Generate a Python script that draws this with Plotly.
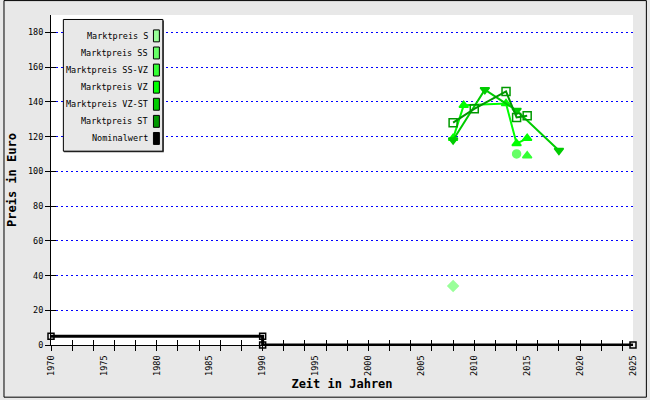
import plotly.graph_objects as go

# ---------------- data ----------------
series_names = ["Marktpreis S", "Marktpreis SS", "Marktpreis SS-VZ", "Marktpreis VZ",
                "Marktpreis VZ-ST", "Marktpreis ST", "Nominalwert"]
series_colors = ["#99FF99", "#66FF66", "#33FF33", "#00FF00", "#00CC00", "#009900", "#000000"]

s_years = [2008]
s_values = [34]

ss_years = [2014]
ss_values = [110]

ssvz_years = [2015]
ssvz_values = [109]

vz_years = [2008, 2009, 2013, 2014, 2015]
vz_values = [119, 138, 139, 116, 119]

vzst_years = [2008, 2011, 2014, 2018]
vzst_values = [118, 147, 135, 112]

st_years = [2008, 2010, 2013, 2014, 2015]
st_values = [128, 136, 146, 131, 132]

nominal_years = [1970, 1990, 1990, 2025]
nominal_values = [5, 5, 0, 0]

y_ticks = [0, 20, 40, 60, 80, 100, 120, 140, 160, 180]
x_labels = list(range(1970, 2026, 5))

# ---------------- figure ----------------
W, H = 650, 400
L, R, T, B = 48, 14, 15, 53
PW, PH = W - L - R, H - T - B


def xp(px):
    return (px - L) / PW


def yp(py):
    return (H - B - py) / PH


MONO = "DejaVu Sans Mono, Liberation Mono, monospace"

fig = go.Figure()

data_series = [
    (s_years, s_values, "diamond"),
    (ss_years, ss_values, "circle"),
    (ssvz_years, ssvz_values, "triangle-up"),
    (vz_years, vz_values, "triangle-up"),
    (vzst_years, vzst_values, "triangle-down"),
    (st_years, st_values, "square-open"),
]

for (xs, ys, sym), name, col in zip(data_series, series_names, series_colors):
    fig.add_trace(go.Scatter(
        x=xs, y=ys, name=name, mode="lines+markers",
        line=dict(color=col, width=2),
        marker=dict(symbol=sym, size=8, color=col,
                    line=dict(color=col, width=1.5)),
        showlegend=False,
    ))

fig.add_trace(go.Scatter(
    x=nominal_years, y=nominal_values, name=series_names[-1], mode="lines+markers",
    line=dict(color="#000000", width=3),
    marker=dict(symbol="square-open", size=6, color="#000000", line=dict(width=1.5)),
    showlegend=False, cliponaxis=False,
))

# ---------------- legend (manual, symbols on the right) ----------------
shapes = []
annotations = []
shapes.append(dict(type="rect", xref="paper", yref="paper",
                   x0=xp(61), x1=xp(162), y0=yp(153), y1=yp(20.5),
                   fillcolor="#333333", line=dict(width=0), layer="above"))
shapes.append(dict(type="rect", xref="paper", yref="paper",
                   x0=xp(60.5), x1=xp(161), y0=yp(152), y1=yp(19.5),
                   fillcolor="#E8E8E8", line=dict(color="#000000", width=1), layer="above"))
row0, dy = 36, 17.2
for i, (name, col) in enumerate(zip(series_names, series_colors)):
    cy = row0 + i * dy
    annotations.append(dict(xref="paper", yref="paper", x=xp(148), y=yp(cy),
                            xanchor="right", yanchor="middle", showarrow=False,
                            text=name, font=dict(family=MONO, size=8.5, color="#000000")))
    shapes.append(dict(type="rect", xref="paper", yref="paper",
                       x0=xp(151.5), x1=xp(157.5), y0=yp(cy + 6), y1=yp(cy - 6),
                       fillcolor=col, line=dict(color="#000000", width=1), layer="above"))

# outer image border
shapes.append(dict(type="rect", xref="paper", yref="paper",
                   x0=xp(0.5), x1=xp(649.5), y0=yp(399.5), y1=yp(0.5),
                   line=dict(color="#000000", width=1)))

fig.update_layout(
    width=W, height=H,
    margin=dict(l=L, r=R, t=T, b=B, pad=0),
    paper_bgcolor="#E8E8E8",
    plot_bgcolor="#FFFFFF",
    showlegend=False,
    shapes=shapes,
    annotations=annotations,
    xaxis=dict(
        range=[1970, 2025], tickmode="array", tickvals=x_labels,
        ticktext=[str(v) for v in x_labels], tickangle=-90,
        ticks="outside", ticklen=6, tickcolor="rgba(0,0,0,0)",
        showgrid=False, zeroline=False,
        showline=True, linecolor="#000000", linewidth=1,
        tickfont=dict(family=MONO, size=8.5, color="#000000"),
        title=dict(text="<b>Zeit in Jahren</b>", font=dict(family=MONO, size=12, color="#000000"),
                   standoff=4),
        fixedrange=True,
    ),
    xaxis2=dict(
        range=[1970, 2025], overlaying="x", anchor="y", side="bottom",
        tickmode="linear", tick0=1970, dtick=2, ticks="outside", ticklen=5,
        tickcolor="#000000", showticklabels=False, showgrid=False, zeroline=False,
        showline=False,
    ),
    xaxis3=dict(
        range=[1970, 2025], overlaying="x", anchor="y", side="bottom",
        tickmode="linear", tick0=1970, dtick=2, ticks="inside", ticklen=5,
        tickcolor="#000000", showticklabels=False, showgrid=False, zeroline=False,
        showline=False,
    ),
    yaxis=dict(
        range=[0, 190], tickmode="array", tickvals=y_ticks,
        ticks="outside", ticklen=5, tickcolor="#000000",
        showgrid=True, gridcolor="#0000FF", griddash="2px,3px", gridwidth=1,
        zeroline=False, showline=True, linecolor="#000000", linewidth=1,
        tickfont=dict(family=MONO, size=8.5, color="#000000"),
        title=dict(text="<b>Preis in Euro</b>", font=dict(family=MONO, size=12, color="#000000"),
                   standoff=8),
        fixedrange=True,
    ),
    yaxis2=dict(
        range=[0, 190], overlaying="y", anchor="x", side="left",
        tickmode="array", tickvals=y_ticks, ticks="inside", ticklen=5,
        tickcolor="#000000", showticklabels=False, showgrid=False, zeroline=False,
        showline=False,
    ),
)

# hidden anchor traces so the overlay tick axes render
fig.add_trace(go.Scatter(x=[None], y=[None], xaxis="x2", yaxis="y", showlegend=False, hoverinfo="skip"))
fig.add_trace(go.Scatter(x=[None], y=[None], xaxis="x3", yaxis="y2", showlegend=False, hoverinfo="skip"))

fig.write_html("out.html", config={"displayModeBar": False},
               post_script="document.body.style.margin='0';document.body.style.overflow='hidden';")
